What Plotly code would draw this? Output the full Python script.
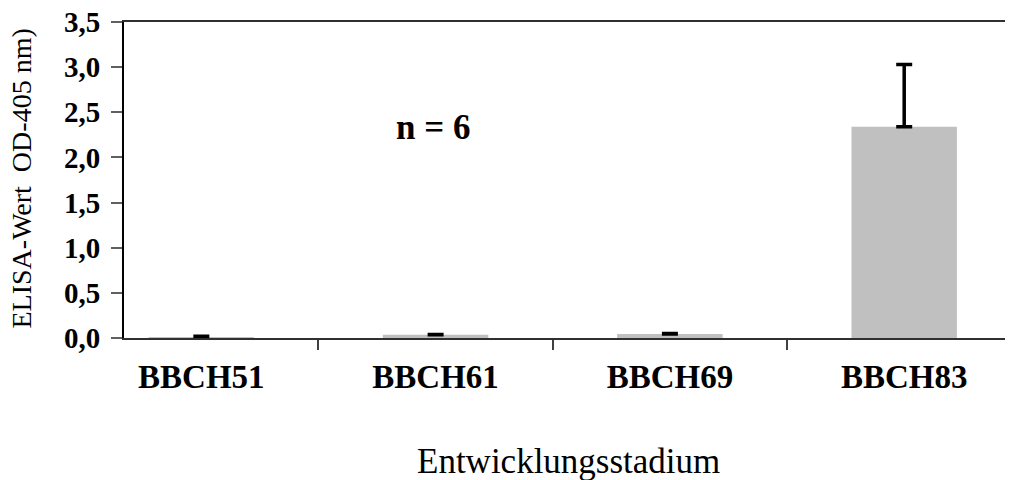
import plotly.graph_objects as go

categories = ["BBCH51", "BBCH61", "BBCH69", "BBCH83"]
values = [0.01, 0.035, 0.045, 2.34]
errors_plus = [0.01, 0.005, 0.005, 0.69]
errors_minus = [0, 0, 0, 0]
y_ticks = [0, 0.5, 1.0, 1.5, 2.0, 2.5, 3.0, 3.5]

serif = "Liberation Serif, Times New Roman, serif"

fig = go.Figure()
fig.add_trace(go.Bar(
    x=categories,
    y=values,
    width=0.45,
    marker=dict(color="#C0C0C0", line=dict(width=0)),
    error_y=dict(type="data", symmetric=False, array=errors_plus,
                 arrayminus=errors_minus, color="black", thickness=3.5, width=8),
))

fig.update_layout(
    width=1013, height=480,
    margin=dict(l=116, r=2, t=14, b=150),
    paper_bgcolor="white", plot_bgcolor="white",
    separators=",.",
    showlegend=False,
    font=dict(family=serif, color="black"),
    xaxis=dict(
        type="category",
        range=[-0.33, 3.49],
        tickson="boundaries",
        ticks="outside", ticklen=10, tickwidth=2, tickcolor="#404040",
        showline=True, linecolor="#303030", linewidth=2, mirror=True,
        showgrid=False, zeroline=False, automargin=False,
        ticklabeloverflow="allow",
        tickfont=dict(family=serif, size=33, color="black", weight="bold"),
        ticklabelstandoff=8,
    ),
    yaxis=dict(
        range=[0, 3.5],
        tickvals=y_ticks,
        tickformat=".1f",
        ticks="outside", ticklen=11, tickwidth=2, tickcolor="#606060",
        showline=True, linecolor="black", linewidth=2,
        showgrid=False, zeroline=False, automargin=False,
        ticklabeloverflow="allow",
        tickfont=dict(family=serif, size=29, color="black", weight="bold"),
        ticklabelstandoff=5,
    ),
    annotations=[
        dict(text="n = 6", x=0.345, y=0.665, xref="paper", yref="paper",
             xanchor="center", yanchor="middle", showarrow=False,
             font=dict(family=serif, size=35, color="black", weight="bold")),
        dict(text="Entwicklungsstadium", x=0.497, y=-0.392, xref="paper", yref="paper",
             xanchor="center", yanchor="middle", showarrow=False,
             font=dict(family=serif, size=35, color="black")),
        dict(text="ELISA-Wert  OD-405 nm)", x=-0.115, y=0.505, xref="paper", yref="paper",
             xanchor="center", yanchor="middle", textangle=-90, showarrow=False,
             font=dict(family=serif, size=28, color="black")),
    ],
)

fig.write_html("out.html")
